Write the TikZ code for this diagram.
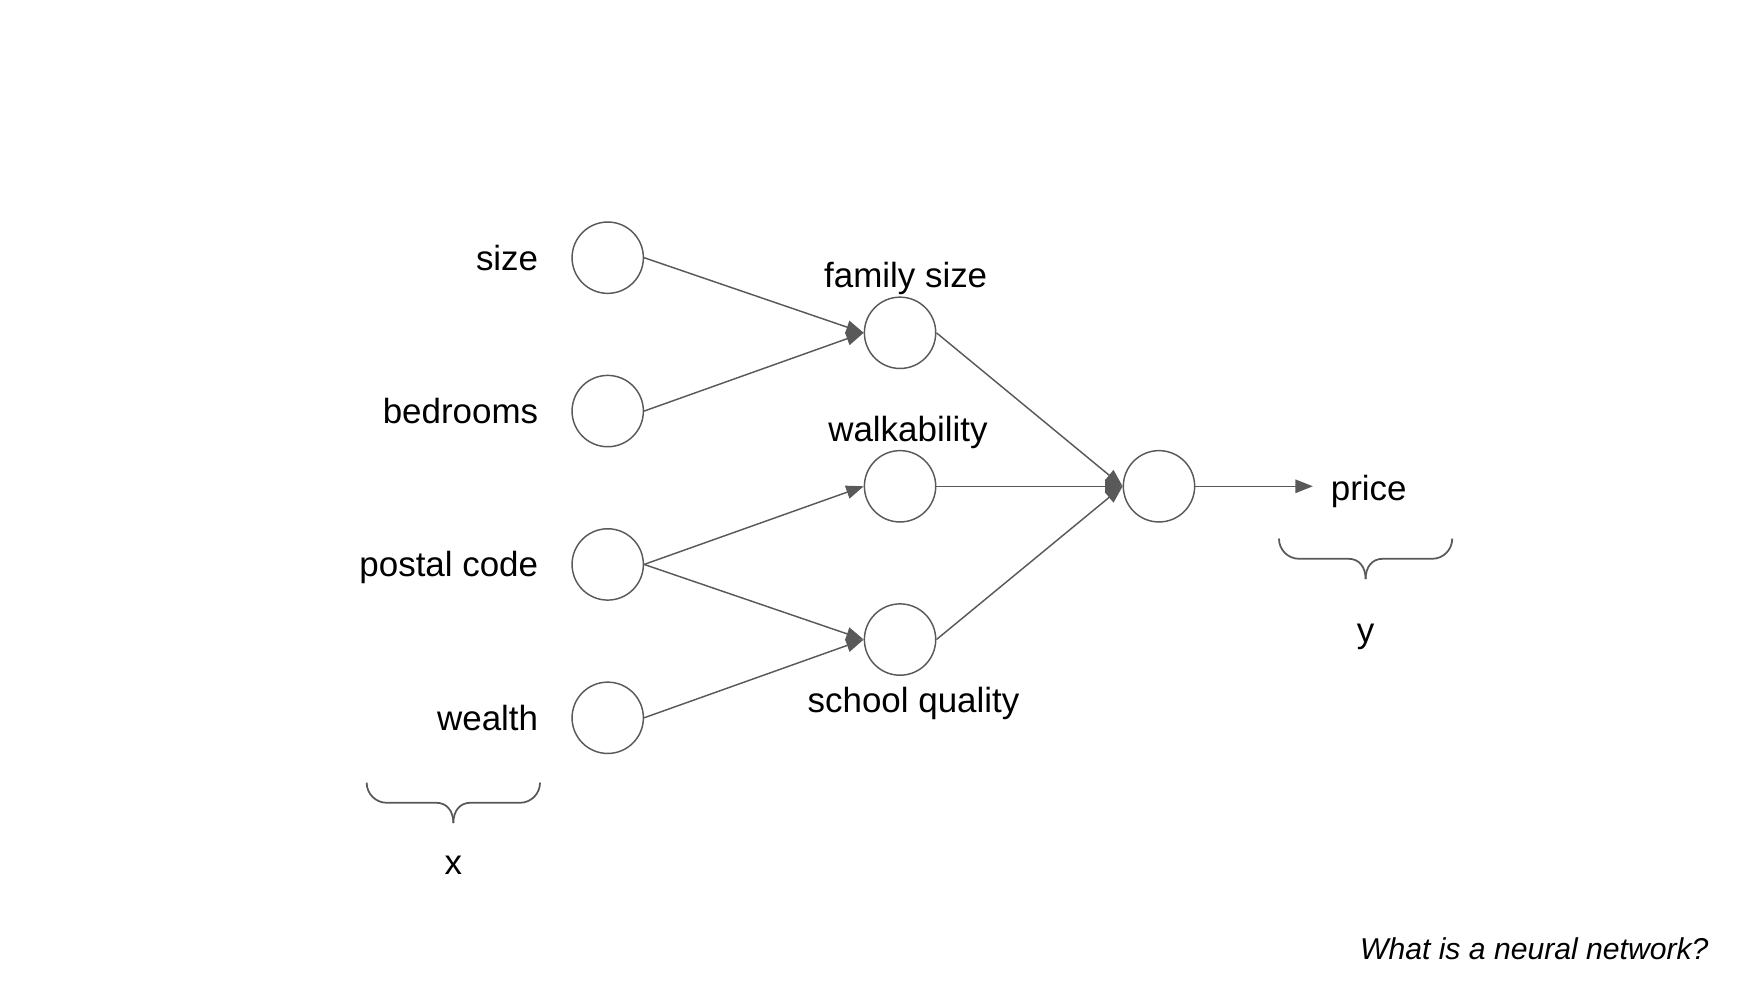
\documentclass[tikz,border=0pt]{standalone}
\usepackage{fontspec}
\setmainfont{Liberation Sans}
\usetikzlibrary{calc,arrows.meta}
\definecolor{strokegray}{RGB}{89,89,89}
\tikzset{
	neuron/.style={draw=strokegray,line width=0.5pt,circle,minimum size=24.5pt,inner sep=0pt},
	link/.style={draw=strokegray,line width=0.5pt,-{Triangle[length=6pt,width=4.6pt]}},
	txt/.style={inner sep=0pt,font=\fontsize{12}{14}\selectfont},
	bracket/.style={draw=strokegray,line width=0.6pt}
}
\newcommand{\makein}[3]{
	\coordinate (#1) at (540.5,#2);
	\node (N#1) at (#1) [neuron] {};
	\node (L#1) at ($(N#1.west) + (-29,11)$) [txt,anchor=base east] {#3};
}
\newcommand{\makehid}[5]{
	\coordinate (#1) at (800.5,#2);
	\node (N#1) at (#1) [neuron] {};
	\node (L#1) at ($(N#1) + (#4,#5)$) [txt,anchor=base] {#3};
}
\newcommand{\makebrace}[4]{
	\coordinate (#1L) at (#2,#4);
	\coordinate (#1R) at (#3,#4);
	\coordinate (#1M) at ($(#1L)!0.5!(#1R)$);
	\draw[bracket] (#1L) .. controls ($(#1L)+(0,10)$) and ($(#1L)+(8,18)$) .. ($(#1L)+(18,18)$) -- ($(#1M)+(-15,18)$) .. controls ($(#1M)+(-6,18)$) and ($(#1M)+(0,25)$) .. ($(#1M)+(0,36)$);
	\draw[bracket] (#1R) .. controls ($(#1R)+(0,10)$) and ($(#1R)+(-8,18)$) .. ($(#1R)+(-18,18)$) -- ($(#1M)+(15,18)$) .. controls ($(#1M)+(6,18)$) and ($(#1M)+(0,25)$) .. ($(#1M)+(0,36)$);
}
\begin{document}
\begin{tikzpicture}[x=0.3862pt,y=-0.3862pt]
		\useasboundingbox (0,0) rectangle (1568,883);
		\makein{size}{229.2}{size}
		\makein{bedrooms}{365.6}{bedrooms}
		\makein{postal}{502}{postal code}
		\makein{wealth}{638.4}{wealth}
		\makehid{family}{296}{family size}{5}{-40.5}
		\makehid{walk}{432.5}{walkability}{7}{-39.7}
		\makehid{school}{568.8}{school quality}{12}{65.3}
		\coordinate (out) at (1030.8,432.5);
		\node (Nout) at (out) [neuron] {};
		\coordinate (yend) at ($(Nout.east) + (104.5,0)$);
		\draw[link] (Nsize.east) -- (Nfamily.west);
		\draw[link] (Nbedrooms.east) -- (Nfamily.west);
		\draw[link] (Npostal.east) -- (Nwalk.west);
		\draw[link] (Npostal.east) -- (Nschool.west);
		\draw[link] (Nwealth.east) -- (Nschool.west);
		\draw[link] (Nfamily.east) -- (Nout.west);
		\draw[link] (Nwalk.east) -- (Nout.west);
		\draw[link] (Nschool.east) -- (Nout.west);
		\draw[link] (Nout.east) -- (yend);
		\node (price) at ($(yend) + (15.5,12.8)$) [txt,anchor=base west] {price};
		\makebrace{xb}{326.1}{480.3}{696}
		\node (xlab) at ($(xbM) + (0,82.2)$) [txt,anchor=base] {x};
		\makebrace{yb}{1137.5}{1291.6}{479}
		\node (ylab) at ($(ybM) + (0,92)$) [txt,anchor=base] {y};
		\node (title) at (1520,853.8) [txt,anchor=base east,font=\fontsize{10.35}{12}\selectfont\itshape] {What is a neural network?};
	\end{tikzpicture}
\end{document}
